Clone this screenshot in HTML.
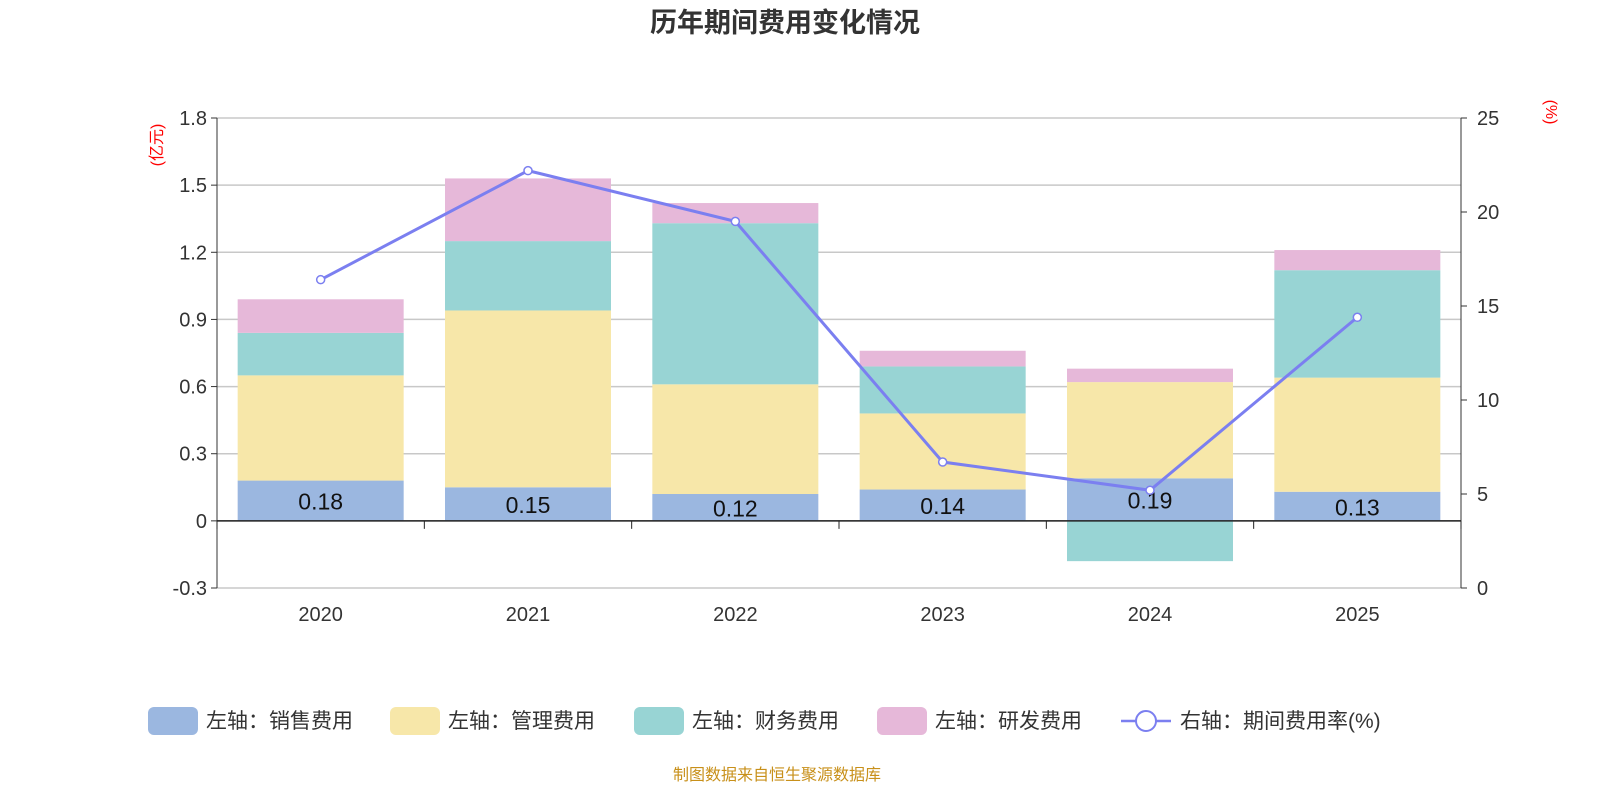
<!DOCTYPE html>
<html><head><meta charset="utf-8"><style>
body{margin:0;background:#fff;font-family:"Liberation Sans","Noto Sans CJK SC",sans-serif}
</style></head><body>
<svg id="c" width="1600" height="800" xmlns="http://www.w3.org/2000/svg" font-family="Liberation Sans, Noto Sans CJK SC, sans-serif"></svg>
<script>
const categories=["2020","2021","2022","2023","2024","2025"];
const sales=[0.18,0.15,0.12,0.14,0.19,0.13];
const mgmt=[0.47,0.79,0.49,0.34,0.43,0.51];
const finance=[0.19,0.31,0.72,0.21,-0.18,0.48];
const rd=[0.15,0.28,0.09,0.07,0.06,0.09];
const rate=[16.4,22.2,19.5,6.7,5.2,14.4];
const leftTicks=[-0.3,0,0.3,0.6,0.9,1.2,1.5,1.8];
const rightTicks=[0,5,10,15,20,25];
const svg=document.getElementById('c');const NS='http://www.w3.org/2000/svg';
function el(t,a,p){const e=document.createElementNS(NS,t);for(const k in a)e.setAttribute(k,a[k]);(p||svg).appendChild(e);return e;}
const X0=217,X1=1461,YT=118,YB=588;
const yL=v=>YT+(1.8-v)/2.1*(YB-YT);
const yR=v=>YB-v/25*(YB-YT);
const band=(X1-X0)/categories.length;
const xC=i=>X0+band*(i+0.5);
const bw=166;
let t=el('text',{x:785,y:32,'text-anchor':'middle','font-size':27,'font-weight':'bold',fill:'#333'});t.textContent='历年期间费用变化情况';

leftTicks.forEach(v=>{const y=yL(v);
 const g=el('line',{x1:X0,x2:X1,y1:y,y2:y,stroke:'#c8c8c8','stroke-width':1.5});
 
 el('line',{x1:X0-6,x2:X0,y1:y,y2:y,stroke:'#333'});
 const tx=el('text',{x:X0-10,y:y+7,'text-anchor':'end','font-size':20,fill:'#333'});tx.textContent=v===0?'0':v.toFixed(1);
 });
rightTicks.forEach(v=>{const y=yR(v);
 el('line',{x1:X1,x2:X1+6,y1:y,y2:y,stroke:'#333'});
 const tx=el('text',{x:X1+16,y:y+7,'font-size':20,fill:'#333'});tx.textContent=v;
 });
el('line',{x1:X0,x2:X0,y1:YT,y2:YB,stroke:'#333'});
el('line',{x1:X1,x2:X1,y1:YT,y2:YB,stroke:'#333'});
let u=el('text',{transform:'translate(162,145) rotate(-90)','text-anchor':'middle','font-size':16,fill:'red'});u.textContent='(亿元)';

u=el('text',{transform:'translate(1546,112) rotate(90)','text-anchor':'middle','font-size':16,fill:'red'});u.textContent='(%)';

const cols=['#9bb7e0','#f7e7a9','#98d4d4','#e6b8d9'];
const series=[sales,mgmt,finance,rd];const sn=['sales','mgmt','finance','rd'];
categories.forEach((c,i)=>{let pos=0,neg=0;
 series.forEach((s,k)=>{const v=s[i];let a,b;
  if(v>=0){a=pos;b=pos+v;pos=b;}else{a=neg;b=neg+v;neg=b;}
  const r=el('rect',{x:xC(i)-bw/2,width:bw,y:Math.min(yL(a),yL(b)),height:Math.abs(yL(a)-yL(b)),fill:cols[k]});
  });
 const lb=el('text',{x:xC(i),y:(yL(0)+yL(sales[i]))/2+9,'text-anchor':'middle','font-size':23,fill:'#111'});lb.textContent=sales[i].toFixed(2);
 
 const xl=el('text',{x:xC(i),y:621,'text-anchor':'middle','font-size':20,fill:'#333'});xl.textContent=c;
 });
el('line',{x1:X0,x2:X1,y1:yL(0),y2:yL(0),stroke:'#222','stroke-width':1.5});
for(let i=0;i<=categories.length;i++){el('line',{x1:X0+band*i,x2:X0+band*i,y1:yL(0),y2:yL(0)+8,stroke:'#222'});}
const pl=el('polyline',{points:rate.map((v,i)=>xC(i)+','+yR(v)).join(' '),fill:'none',stroke:'#7b7ff0','stroke-width':3});

rate.forEach((v,i)=>{const p=el('circle',{cx:xC(i),cy:yR(v),r:4,fill:'#fff',stroke:'#7b7ff0','stroke-width':1.5});
 });
const leg=[['左轴：销售费用',cols[0],148],['左轴：管理费用',cols[1],390],['左轴：财务费用',cols[2],634],['左轴：研发费用',cols[3],877]];
leg.forEach(([n,c,x])=>{const g=el('g',{});
 el('rect',{x:x,y:707,width:50,height:28,rx:6,fill:c},g);
 const tt=el('text',{x:x+58,y:728,'font-size':21,fill:'#333'},g);tt.textContent=n;});
const g=el('g',{});
el('line',{x1:1121,x2:1171,y1:721,y2:721,stroke:'#7b7ff0','stroke-width':2.5},g);
el('circle',{cx:1146,cy:721,r:10,fill:'#fff',stroke:'#7b7ff0','stroke-width':2},g);
const lt=el('text',{x:1180,y:728,'font-size':21,fill:'#333'},g);lt.textContent='右轴：期间费用率(%)';
const f=el('text',{x:777,y:780,'text-anchor':'middle','font-size':16,fill:'#c8901a'});f.textContent='制图数据来自恒生聚源数据库';

</script>
</body></html>
